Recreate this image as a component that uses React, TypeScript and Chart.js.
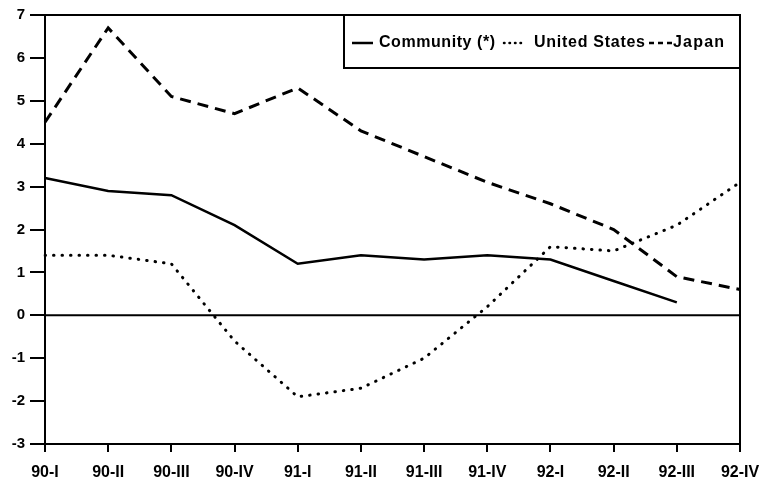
import React, { useEffect, useRef } from "react";
import { Chart, registerables } from "chart.js";

Chart.register(...registerables);

const categories = ["90-I", "90-II", "90-III", "90-IV", "91-I", "91-II", "91-III", "91-IV", "92-I", "92-II", "92-III", "92-IV"];
const community = [3.2, 2.9, 2.8, 2.1, 1.2, 1.4, 1.3, 1.4, 1.3, 0.8, 0.3, null];
const unitedStates = [1.4, 1.4, 1.2, -0.6, -1.9, -1.7, -1.0, 0.2, 1.6, 1.5, 2.1, 3.1];
const japan = [4.5, 6.7, 5.1, 4.7, 5.3, 4.3, 3.7, 3.1, 2.6, 2.0, 0.9, 0.6];
const seriesNames = ["Community (*)", "United States", "Japan"];

const FONT = "'Liberation Sans', Arial, sans-serif";

const framePlugin = {
  id: "frame",
  afterDatasetsDraw(chart: any) {
    const { ctx, chartArea } = chart;
    const y0 = chart.scales.y.getPixelForValue(0);
    ctx.save();
    ctx.strokeStyle = "#000";
    ctx.lineWidth = 2;
    ctx.beginPath();
    ctx.rect(chartArea.left, chartArea.top, chartArea.right - chartArea.left, chartArea.bottom - chartArea.top);
    ctx.stroke();
    ctx.beginPath();
    ctx.moveTo(chartArea.left, y0);
    ctx.lineTo(chartArea.right, y0);
    ctx.stroke();

    // legend box
    const bx = chartArea.left + 299;
    const by = chartArea.top;
    const bw = chartArea.right - bx;
    const bh = 53;
    ctx.fillStyle = "#fff";
    ctx.fillRect(bx, by, bw, bh);
    ctx.strokeRect(bx, by, bw, bh);
    ctx.font = `bold 16px ${FONT}`;
    ctx.fillStyle = "#000";
    ctx.textBaseline = "middle";
    const ly = by + 28;
    const dashes = [[], [0.5, 5], [5, 4]];
    const caps = ["butt", "round", "butt"];
    // [lineStart, lineEnd, textStart, textEnd] relative to legend box left
    const slots = [
      [8, 29, 35, 151],
      [160, 182, 190, 301],
      [305, 328, 329, 380],
    ];
    seriesNames.forEach((name, i) => {
      const [l0, l1, t0, t1] = slots[i];
      ctx.save();
      ctx.setLineDash(dashes[i]);
      ctx.lineCap = caps[i];
      ctx.lineWidth = 2.5;
      ctx.beginPath();
      ctx.moveTo(bx + l0, ly);
      ctx.lineTo(bx + l1, ly);
      ctx.stroke();
      ctx.restore();
      ctx.save();
      (ctx as any).letterSpacing = "0px";
      const w = ctx.measureText(name).width;
      const sp = Math.max(0, (t1 - t0 - w) / (name.length - 1));
      (ctx as any).letterSpacing = sp.toFixed(2) + "px";
      ctx.fillText(name, bx + t0, ly);
      ctx.restore();
    });
    ctx.restore();
  },
};

export default function App() {
  const ref = useRef<HTMLCanvasElement>(null);
  useEffect(() => {
    const chart = new Chart(ref.current!, {
      type: "line",
      data: {
        labels: categories,
        datasets: [
          {
            label: seriesNames[0],
            data: community,
            borderColor: "#000",
            borderWidth: 2.5,
            pointRadius: 0,
            tension: 0,
            spanGaps: false,
          },
          {
            label: seriesNames[1],
            data: unitedStates,
            borderColor: "#000",
            borderWidth: 3,
            borderDash: [0.5, 8],
            borderCapStyle: "round",
            pointRadius: 0,
            tension: 0,
          },
          {
            label: seriesNames[2],
            data: japan,
            borderColor: "#000",
            borderWidth: 3,
            borderDash: [11, 7],
            pointRadius: 0,
            tension: 0,
          },
        ],
      },
      options: {
        animation: false,
        responsive: false,
        layout: { padding: { top: 15, right: 22, left: 0, bottom: 0 } },
        plugins: { legend: { display: false }, tooltip: { enabled: false } },
        scales: {
          x: {
            type: "category",
            offset: false,
            grid: { drawOnChartArea: false, tickLength: 8, color: "#000", lineWidth: 2 },
            border: { display: true, color: "#000", width: 2 },
            ticks: { color: "#000", font: { family: FONT, weight: "bold", size: 16 }, maxRotation: 0, autoSkip: false, padding: 11 },
            afterFit: (s: any) => { s.height = 36; s.paddingLeft = 0; s.paddingRight = 0; },
          },
          y: {
            min: -3,
            max: 7,
            ticks: { stepSize: 1, color: "#000", font: { family: FONT, weight: "bold", size: 15 }, padding: 5 },
            grid: { drawOnChartArea: false, tickLength: 15, color: "#000", lineWidth: 2 },
            border: { display: true, color: "#000", width: 2 },
            afterFit: (s: any) => { s.width = 45; s.paddingTop = 0; s.paddingBottom = 0; },
          },
        },
      },
      plugins: [framePlugin],
    });
    return () => chart.destroy();
  }, []);
  return (
    <div style={{ position: "fixed", left: 0, top: 0, width: 762, height: 480, background: "#fff" }}>
      <canvas ref={ref} width={762} height={480} />
    </div>
  );
}
